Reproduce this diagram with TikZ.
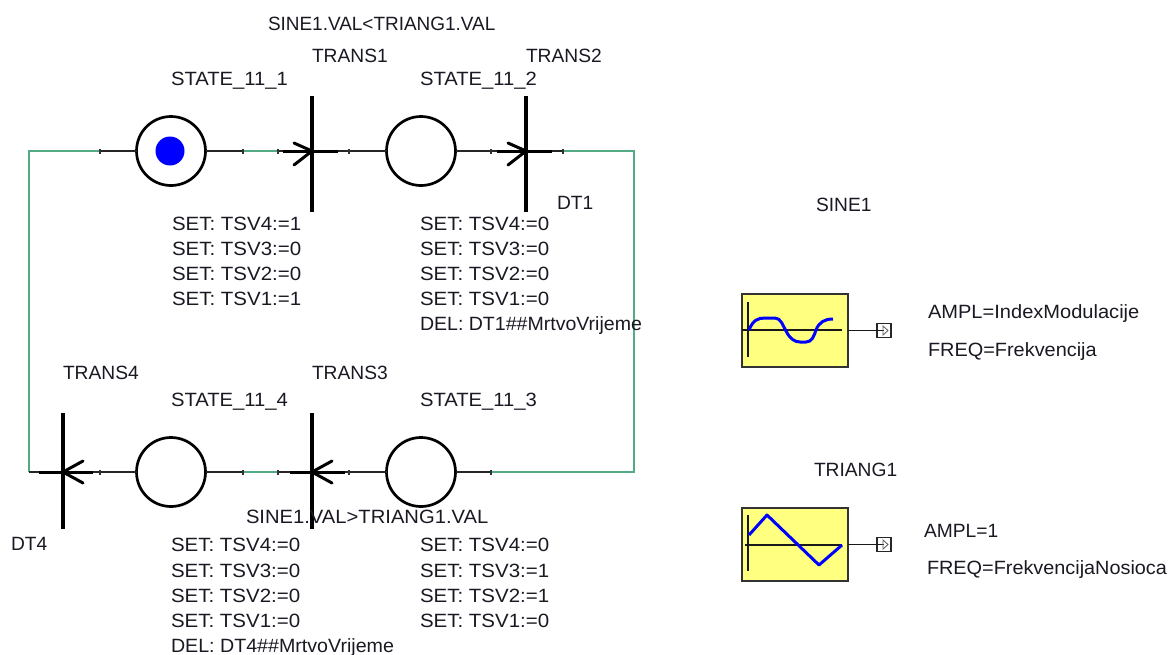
\documentclass[tikz,border=0pt]{standalone}
\usepackage{graphicx}
\usepackage{fontspec}
\setmainfont{Liberation Sans}
\definecolor{wiregreen}{RGB}{84,170,130}
\definecolor{blockyellow}{RGB}{255,255,128}
\definecolor{txt}{RGB}{25,25,35}
\newcommand{\sx}[2]{\scalebox{#1}[1]{#2}}
\tikzset{
  lbl/.style={anchor=base west,inner sep=0pt,outer sep=0pt,text=txt,font=\fontsize{19.2}{20}\selectfont},
  place/.style={circle,draw=black,line width=2.7pt,minimum size=69pt,inner sep=0pt,outer sep=0pt,fill=white},
  token/.style={circle,fill=blue,minimum size=29pt,inner sep=0pt},
  trans/.style={rectangle,fill=black,minimum width=3.2pt,minimum height=116pt,inner sep=0pt,outer sep=0pt},
  thinw/.style={draw=black!85,line width=1.2pt},
  greenw/.style={draw=wiregreen,line width=1.4pt},
  thickw/.style={draw=black,line width=3pt},
  arm/.style={draw=black,line width=3pt,line cap=round},
  tick/.style={draw=black!80,line width=1.2pt},
  block/.style={rectangle,draw=black!80,line width=1.5pt,fill=blockyellow,minimum width=106pt,minimum height=73pt,inner sep=0pt,outer sep=0pt},
  pin/.style={rectangle,draw=black!85,line width=1.4pt,fill=white,minimum width=14pt,minimum height=14pt,inner sep=0pt,outer sep=0pt},
  curve/.style={draw=blue,line width=3pt,line join=round},
  axis/.style={draw=black!90,line width=1.3pt},
}
\newcommand{\tickat}[1]{\draw[tick] ([yshift=-2.5pt]#1) -- ([yshift=2.5pt]#1);}
\begin{document}
\begin{tikzpicture}[x=1pt,y=-1pt]
\useasboundingbox (0,0) rectangle (1169,654);
% joints
\coordinate (tl) at (29,151);
\coordinate (bl) at (29,472);
\coordinate (tr) at (634,151);
\coordinate (br) at (634,472);
\coordinate (a1) at (100,151);
\coordinate (a2) at (243,151);
\coordinate (a3) at (278,151);
\coordinate (a4) at (349,151);
\coordinate (a5) at (491,151);
\coordinate (a6) at (563,151);
\coordinate (b1) at (100,472);
\coordinate (b2) at (243,472);
\coordinate (b3) at (278,472);
\coordinate (b4) at (349,472);
\coordinate (b5) at (491,472);
% wires
\draw[greenw] (a1) -- (tl) -- (bl);
\draw[greenw] (a6) -- (tr) -- (br) -- (b5);
\draw[greenw] (a2) -- (a3);
\draw[greenw] (b2) -- (b3);
% states
\node[place] (s1) at (171,151) {};
\node[place] (s2) at (421,151) {};
\node[place] (s3) at (421,472) {};
\node[place] (s4) at (171,472) {};
\node[token] (tk) at (170,151) {};
% transitions
\node[trans] (t1) at (312,154) {};
\node[trans] (t2) at (526,154) {};
\node[trans] (t3) at (312,471) {};
\node[trans] (t4) at (63,471) {};
\coordinate (t1c) at (312,151);
\coordinate (t2c) at (526,151);
\coordinate (t3c) at (312,472);
\coordinate (t4c) at (63,472);
% thin wires
\draw[thinw] (a1) -- (s1);
\draw[thinw] (s1) -- (a2);
\draw[thinw] (a3) -- (t1c) -- (s2);
\draw[thinw] (s2) -- (a5) -- (t2c) -- (a6);
\draw[thinw] (s3) -- (b5);
\draw[thinw] (s3) -- (t3c) -- (b3);
\draw[thinw] (s4) -- (b2);
\draw[thinw] (s4) -- (b1) -- (bl);
% thick stubs
\draw[thickw] (283,151) -- (338,151);
\draw[thickw] (497,151) -- (552,151);
\draw[thickw] (290,472) -- (345,472);
\draw[thickw] (39,472) -- (93,472);
% arrow arms
\draw[arm] (294,143) -- (t1c) -- (294,165);
\draw[arm] (508,143) -- (t2c) -- (508,165);
\draw[arm] (332,461) -- (t3c) -- (332,483);
\draw[arm] (83,461) -- (t4c) -- (83,483);
% ticks
\tickat{a1}\tickat{a2}\tickat{a3}\tickat{a4}\tickat{a5}\tickat{a6}
\tickat{b1}\tickat{b2}\tickat{b3}\tickat{b4}\tickat{b5}
% blocks
\node[block] (sb) at (795,330.5) {};
\node[block] (tb) at (795,544.5) {};
\node[pin] (sp) at (884,330.5) {};
\node[pin] (tp) at (884,544.5) {};
\draw[axis] (sb.east) -- (sp.center);
\draw[axis] (tb.east) -- (tp.center);
\draw[black!60,line width=0.9pt] (883,326) -- (888,330.5) -- (883,335) -- cycle;
\draw[black!60,line width=0.9pt] (883,540) -- (888,544.5) -- (883,549) -- cycle;
\draw[axis] (748,302) -- (748,357);
\draw[axis] (742,330) -- (842,330);
\draw[axis] (748,515) -- (748,571);
\draw[axis] (745,545) -- (842,545);
\draw[curve] (749,330) .. controls (753,320) and (758,318) .. (765,318) -- (775,318) .. controls (781,318) and (783,326) .. (786,331) .. controls (790,339) and (795,342) .. (800,342) -- (806,342) .. controls (812,342) and (814,336) .. (816,330) .. controls (819,322) and (825,319) .. (833,319);
\draw[curve] (749,535) -- (767,515) -- (819,565) -- (842,545);
% labels
\node[lbl] (n1) at (268,30) {\sx{0.987}{SINE1.VAL<TRIANG1.VAL}};
\node[lbl] (n2) at (312,62) {TRANS1};
\node[lbl] (n3) at (526,62) {TRANS2};
\node[lbl] (n4) at (171,85) {\sx{1.054}{STATE\_11\_1}};
\node[lbl] (n5) at (420,85) {\sx{1.054}{STATE\_11\_2}};
\node[lbl] (n6) at (557,209) {DT1};
\node[lbl] (n7) at (816,211) {SINE1};
\node[lbl] (a11) at (172,230) {\sx{1.067}{SET: TSV4:=1}};
\node[lbl] (a12) at (172,255) {\sx{1.067}{SET: TSV3:=0}};
\node[lbl] (a13) at (172,280) {\sx{1.067}{SET: TSV2:=0}};
\node[lbl] (a14) at (172,305) {\sx{1.067}{SET: TSV1:=1}};
\node[lbl] (a21) at (420,230) {\sx{1.067}{SET: TSV4:=0}};
\node[lbl] (a22) at (420,255) {\sx{1.067}{SET: TSV3:=0}};
\node[lbl] (a23) at (420,280) {\sx{1.067}{SET: TSV2:=0}};
\node[lbl] (a24) at (420,305) {\sx{1.067}{SET: TSV1:=0}};
\node[lbl] (a25) at (420,330) {\sx{1.018}{DEL: DT1\#\#MrtvoVrijeme}};
\node[lbl] (n8) at (63,379) {TRANS4};
\node[lbl] (n9) at (312,379) {TRANS3};
\node[lbl] (n10) at (171,406) {\sx{1.054}{STATE\_11\_4}};
\node[lbl] (n11) at (420,406) {\sx{1.054}{STATE\_11\_3}};
\node[lbl] (n12) at (246,523) {\sx{1.052}{SINE1.VAL>TRIANG1.VAL}};
\node[lbl] (n13) at (11,550) {DT4};
\node[lbl] (a41) at (171,551) {\sx{1.067}{SET: TSV4:=0}};
\node[lbl] (a42) at (171,577) {\sx{1.067}{SET: TSV3:=0}};
\node[lbl] (a43) at (171,602) {\sx{1.067}{SET: TSV2:=0}};
\node[lbl] (a44) at (171,627) {\sx{1.067}{SET: TSV1:=0}};
\node[lbl] (a45) at (171,652) {\sx{1.023}{DEL: DT4\#\#MrtvoVrijeme}};
\node[lbl] (a31) at (420,551) {\sx{1.067}{SET: TSV4:=0}};
\node[lbl] (a32) at (420,577) {\sx{1.067}{SET: TSV3:=1}};
\node[lbl] (a33) at (420,602) {\sx{1.067}{SET: TSV2:=1}};
\node[lbl] (a34) at (420,627) {\sx{1.067}{SET: TSV1:=0}};
\node[lbl] (p1) at (928,318) {\sx{1.045}{AMPL=IndexModulacije}};
\node[lbl] (p2) at (928,356) {\sx{1.037}{FREQ=Frekvencija}};
\node[lbl] (n14) at (814,476) {TRIANG1};
\node[lbl] (p3) at (924,537) {AMPL=1};
\node[lbl] (p4) at (927,574) {\sx{1.034}{FREQ=FrekvencijaNosioca}};
\end{tikzpicture}
\end{document}
